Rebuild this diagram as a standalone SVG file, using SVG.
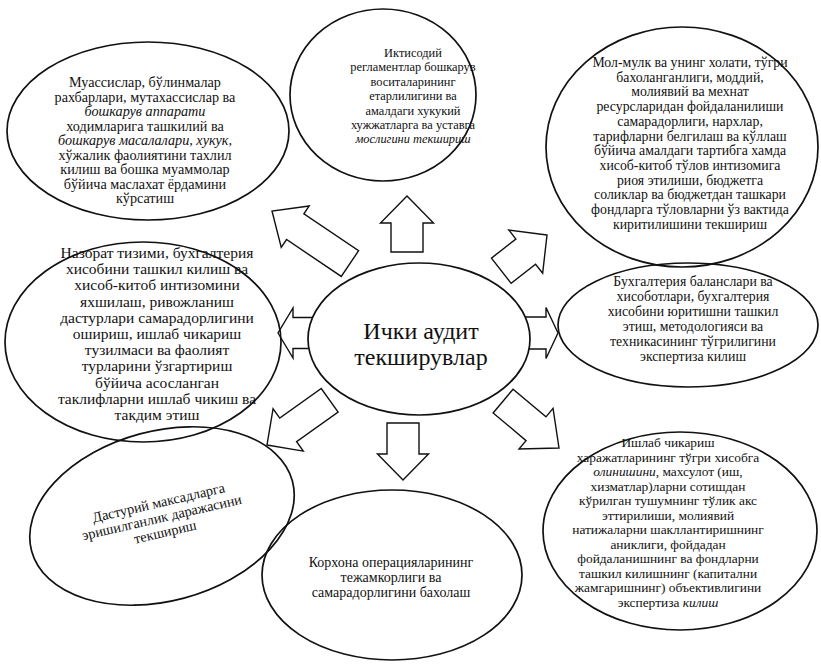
<svg xmlns="http://www.w3.org/2000/svg" width="821" height="666" viewBox="0 0 821 666">
  <style>
    .bg { fill: #ffffff; }
    .oval { fill: none; stroke: #111; stroke-width: 1.7; }
    .core { fill: #ffffff; stroke: #111; stroke-width: 1.7; }
    .arrow { fill: #ffffff; stroke: #111; stroke-width: 1.4; stroke-linejoin: miter; }
    text { font-family: "Liberation Serif", "DejaVu Serif", "Times New Roman", serif; fill: #111; text-anchor: middle; }
    .t1 { font-size: 14.2px; }
    .t2 { font-size: 12.4px; }
    .t3 { font-size: 13.8px; }
    .t4 { font-size: 15.5px; }
    .t5 { font-size: 13.8px; }
    .t6 { font-size: 14.2px; }
    .t7 { font-size: 14px; }
    .t8 { font-size: 13.4px; }
    .big { font-size: 24px; }
    .it { font-style: italic; }
  </style>

  <rect class="bg" x="0" y="0" width="821" height="666"/>

  <!-- block arrows radiating from the central oval -->
  <g id="connectors">
    <polygon class="arrow" transform="translate(272,211) rotate(214)" points="0,0 -28,-25 -28,-15.5 -94,-15.5 -94,15.5 -28,15.5 -28,25"/>
    <polygon class="arrow" transform="translate(407,196) rotate(-90)" points="0,0 -27,-26.5 -27,-16 -56,-16 -56,16 -27,16 -27,26.5"/>
    <polygon class="arrow" transform="translate(547,235) rotate(-38)" points="0,0 -27,-27.5 -27,-16 -58,-16 -58,16 -27,16 -27,27.5"/>
    <polygon class="arrow" transform="translate(278,333) rotate(180)" points="0,0 -15,-25 -15,-15.5 -45,-15.5 -45,15.5 -15,15.5 -15,25"/>
    <polygon class="arrow" transform="translate(558,333)" points="0,0 -12,-25.5 -12,-16 -45,-16 -45,16 -12,16 -12,25.5"/>
    <polygon class="arrow" transform="translate(267,445) rotate(144.5)" points="0,0 -26,-26 -26,-14.5 -77,-14.5 -77,14.5 -26,14.5 -26,26"/>
    <polygon class="arrow" transform="translate(403,480) rotate(90)" points="0,0 -26,-25.5 -26,-16 -57,-16 -57,16 -26,16 -26,25.5"/>
    <polygon class="arrow" transform="translate(559,448) rotate(40)" points="0,0 -30,-26.5 -30,-15.5 -73,-15.5 -73,15.5 -30,15.5 -30,26.5"/>
  </g>

  <!-- central node -->
  <g id="center">
    <ellipse class="core" cx="419" cy="339" rx="111" ry="76"/>
    <text class="big" x="421" y="339">Ички аудит</text>
    <text class="big" x="421" y="365">текширувлар</text>
  </g>

  <!-- top-left -->
  <g id="node-consulting">
    <ellipse class="oval" cx="148" cy="131" rx="141" ry="89"/>
    <text class="t1" x="145" y="87">Муассислар, бўлинмалар</text>
    <text class="t1" x="145" y="101.5">рахбарлари, мутахассислар ва</text>
    <text class="t1 it" x="145" y="116">бошкарув аппарати</text>
    <text class="t1" x="145" y="130.5">ходимларига ташкилий ва</text>
    <text class="t1 it" x="145" y="145">бошкарув масалалари, хукук,</text>
    <text class="t1" x="145" y="159.5">хўжалик фаолиятини тахлил</text>
    <text class="t1" x="145" y="174">килиш ва бошка муаммолар</text>
    <text class="t1" x="145" y="188.5">бўйича маслахат ёрдамини</text>
    <text class="t1" x="145" y="203">кўрсатиш</text>
  </g>

  <!-- top centre -->
  <g id="node-regulations">
    <ellipse class="oval" cx="383" cy="95" rx="93" ry="86"/>
    <text class="t2" x="413" y="57">Иктисодий</text>
    <text class="t2" x="413" y="71.4">регламентлар бошкарув</text>
    <text class="t2" x="413" y="85.8">воситаларининг</text>
    <text class="t2" x="413" y="100.2">етарлилигини ва</text>
    <text class="t2" x="413" y="114.6">амалдаги хукукий</text>
    <text class="t2" x="413" y="129">хужжатларга ва уставга</text>
    <text class="t2 it" x="413" y="143.4">мослигини текшириш</text>
  </g>

  <!-- top-right -->
  <g id="node-property">
    <ellipse class="oval" cx="682" cy="147" rx="136" ry="120"/>
    <text class="t3" x="690" y="67">Мол-мулк ва унинг холати, тўгри</text>
    <text class="t3" x="690" y="81.7">бахоланганлиги, моддий,</text>
    <text class="t3" x="690" y="96.4">молиявий ва мехнат</text>
    <text class="t3" x="690" y="111.1">ресурсларидан фойдаланилиши</text>
    <text class="t3" x="690" y="125.8">самарадорлиги, нархлар,</text>
    <text class="t3" x="690" y="140.5">тарифларни белгилаш ва кўллаш</text>
    <text class="t3" x="690" y="155.2">бўйича амалдаги тартибга хамда</text>
    <text class="t3" x="690" y="169.9">хисоб-китоб тўлов интизомига</text>
    <text class="t3" x="690" y="184.6">риоя этилиши, бюджетга</text>
    <text class="t3" x="690" y="199.3">соликлар ва бюджетдан ташкари</text>
    <text class="t3" x="690" y="214">фондларга тўловларни ўз вактида</text>
    <text class="t3" x="690" y="228.7">киритилишини текшириш</text>
  </g>

  <!-- middle-left -->
  <g id="node-control">
    <ellipse class="oval" cx="143" cy="342" rx="138" ry="100"/>
    <text class="t4" x="157" y="258">Назорат тизими, бухгалтерия</text>
    <text class="t4" x="157" y="274.2">хисобини ташкил килиш ва</text>
    <text class="t4" x="157" y="290.4">хисоб-китоб интизомини</text>
    <text class="t4" x="157" y="306.6">яхшилаш, ривожланиш</text>
    <text class="t4" x="157" y="322.8">дастурлари самарадорлигини</text>
    <text class="t4" x="157" y="339">ошириш, ишлаб чикариш</text>
    <text class="t4" x="157" y="355.2">тузилмаси ва фаолият</text>
    <text class="t4" x="157" y="371.4">турларини ўзгартириш</text>
    <text class="t4" x="157" y="387.6">бўйича асосланган</text>
    <text class="t4" x="157" y="403.8">таклифларни ишлаб чикиш ва</text>
    <text class="t4" x="157" y="420">такдим этиш</text>
  </g>

  <!-- middle-right -->
  <g id="node-accounting">
    <ellipse class="oval" cx="688" cy="325" rx="130" ry="62"/>
    <text class="t5" x="693" y="286">Бухгалтерия баланслари ва</text>
    <text class="t5" x="693" y="300.9">хисоботлари, бухгалтерия</text>
    <text class="t5" x="693" y="315.8">хисобини юритишни ташкил</text>
    <text class="t5" x="693" y="330.7">этиш, методологияси ва</text>
    <text class="t5" x="693" y="345.6">техникасининг тўгрилигини</text>
    <text class="t5" x="693" y="360.5">экспертиза килиш</text>
  </g>

  <!-- bottom-left, tilted -->
  <g id="node-programme">
    <ellipse class="oval" cx="162" cy="516" rx="135" ry="85" transform="rotate(-15 162 516)"/>
    <g transform="rotate(-13 162 518)">
      <text class="t6" x="162" y="507">Дастурий максадларга</text>
      <text class="t6" x="162" y="522">эришилганлик даражасини</text>
      <text class="t6" x="162" y="537">текшириш</text>
    </g>
  </g>

  <!-- bottom centre -->
  <g id="node-efficiency">
    <ellipse class="oval" cx="392" cy="575" rx="130" ry="85"/>
    <text class="t7" x="391" y="567">Корхона операцияларининг</text>
    <text class="t7" x="391" y="582">тежамкорлиги ва</text>
    <text class="t7" x="391" y="597">самарадорлигини бахолаш</text>
  </g>

  <!-- bottom-right -->
  <g id="node-costs">
    <ellipse class="oval" cx="680" cy="531" rx="137" ry="99"/>
    <text class="t8" x="668" y="447">Ишлаб чикариш</text>
    <text class="t8" x="668" y="461.5">харажатларининг тўгри хисобга</text>
    <text class="t8" x="668" y="476"><tspan class="it">олинишини</tspan>, махсулот (иш,</text>
    <text class="t8" x="668" y="490.5">хизматлар)ларни сотишдан</text>
    <text class="t8" x="668" y="505">кўрилган тушумнинг тўлик акс</text>
    <text class="t8" x="668" y="519.5">эттирилиши, молиявий</text>
    <text class="t8" x="668" y="534">натижаларни шакллантиришнинг</text>
    <text class="t8" x="668" y="548.5">аниклиги, фойдадан</text>
    <text class="t8" x="668" y="563">фойдаланишнинг ва фондларни</text>
    <text class="t8" x="668" y="577.5">ташкил килишнинг (капитални</text>
    <text class="t8" x="668" y="592">жамгаришнинг) объективлигини</text>
    <text class="t8" x="668" y="606.5">экспертиза <tspan class="it">килиш</tspan></text>
  </g>
</svg>
